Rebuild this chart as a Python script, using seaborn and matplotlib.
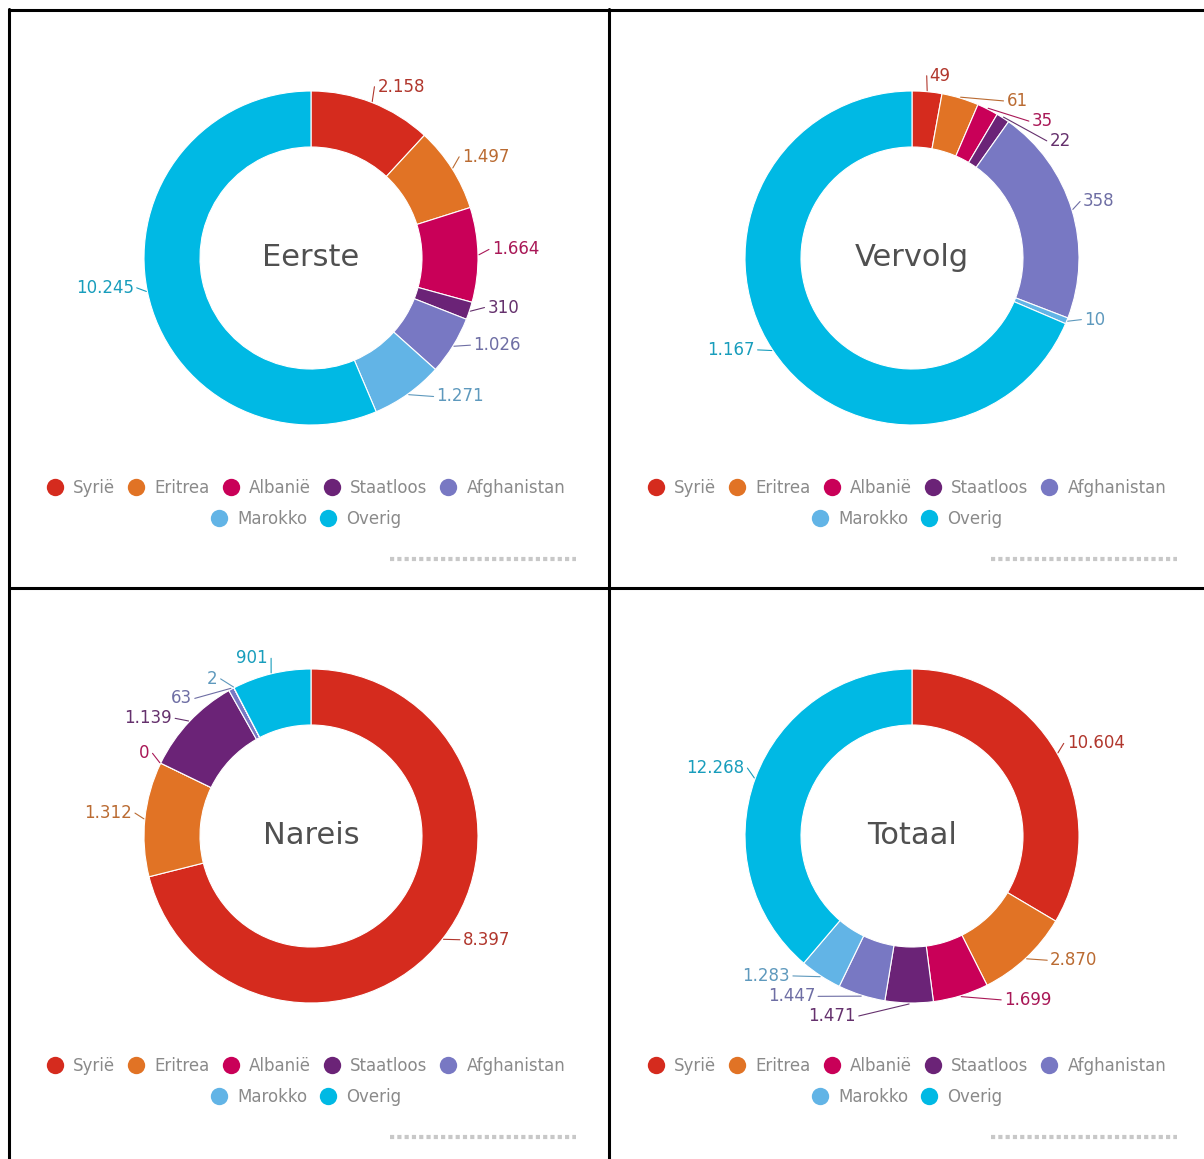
import numpy as np
import matplotlib
matplotlib.use("Agg")
import matplotlib.pyplot as plt
import matplotlib.colors as mcolors
from matplotlib.lines import Line2D
import seaborn as sns

# Data
categories = ["Syrië", "Eritrea", "Albanië", "Staatloos", "Afghanistan", "Marokko", "Overig"]
eerste = [2158, 1497, 1664, 310, 1026, 1271, 10245]
vervolg = [49, 61, 35, 22, 358, 10, 1167]
nareis = [8397, 1312, 0, 1139, 63, 2, 901]
totaal = [10604, 2870, 1699, 1471, 1447, 1283, 12268]
panel_titles = ["Eerste", "Vervolg", "Nareis", "Totaal"]

colors = ["#d52b1e", "#e17325", "#c90058", "#6b2377", "#7878c3", "#62b4e6", "#00b9e4"]

# label nudges in pixels (dx, dy with y pointing down)
nudges = [
    [(-2, 1), (-6, -2), (-5, -5), (0, -9), (4, -10), (17, -12), (5, -7)],
    [(0, 2), (40, 20), (35, 28), (36, 38), (-7, -3), (0, -8), (-2, -10)],
    [(5, -10), (6, -4), (6, -2), (-3, 9), (-30, 25), (-7, 7), (2, 2)],
    [(-7, -1), (11, -11), (37, -13), (-52, -5), (-40, -16), (-20, -15), (7, -4)],
]

W, H = 1204, 1159
sns.set_style("white")
plt.rcParams['font.family'] = ['DejaVu Sans']

fig = plt.figure(figsize=(W / 100, H / 100), dpi=100)
ax = fig.add_axes([0, 0, 1, 1])


def fy(y):
    return H - y


def dutch(v):
    return f"{v:,}".replace(",", ".")


def label_color(c):
    rgb = np.array(mcolors.to_rgb(c))
    grey = np.array(mcolors.to_rgb("#555555"))
    return tuple(0.72 * rgb + 0.28 * grey)


R = 167
ring = 56
centers = [(311, 258), (912, 258), (311, 836), (912, 836)]
datasets = [eerste, vervolg, nareis, totaal]

for k, (vals, (cx, cy)) in enumerate(zip(datasets, centers)):
    wedges, _ = ax.pie(vals, center=(cx, fy(cy)), radius=R, startangle=90,
                       counterclock=False, colors=colors,
                       wedgeprops=dict(width=ring, edgecolor="white", linewidth=0.8))
    ax.text(cx, fy(cy), panel_titles[k], ha="center", va="center",
            fontsize=22, color="#505050")
    for i, w in enumerate(wedges):
        mid = np.deg2rad((w.theta1 + w.theta2) / 2)
        dx, dy = np.cos(mid), np.sin(mid)
        px, py = cx + (R + 18) * dx, fy(cy) + (R + 18) * dy
        nx, ny = nudges[k][i]
        tx, ty = px + nx, py - ny
        ha = "left" if dx >= 0 else "right"
        lc = label_color(colors[i])
        ex, ey = cx + (R + 1) * dx, fy(cy) + (R + 1) * dy
        gap = -2 if ha == "left" else 2
        ax.plot([ex, tx + gap], [ey, ty], color=lc, lw=0.8)
        ax.text(tx + (1 if ha == "left" else -1), ty, dutch(vals[i]), ha=ha, va="center",
                fontsize=12, color=lc)

    # legends: two centred rows
    handles = [Line2D([], [], marker="o", linestyle="", markersize=12.5,
                      markerfacecolor=c, markeredgecolor="none") for c in colors]
    ox = cx - 311
    rows = [(handles[:5], categories[:5], 306 + ox, cy + 230),
            (handles[5:], categories[5:], 306 + ox, cy + 261)]
    for hs, labs, lx, ly in rows:
        fig.legend(hs, labs, loc="center", bbox_to_anchor=(lx / W, 1 - ly / H),
                   ncol=len(hs), frameon=False, fontsize=12, labelcolor="#8a8a8a",
                   handlelength=1.0, handletextpad=0.6, columnspacing=0.75,
                   borderpad=0, borderaxespad=0)

    # dotted strip bottom right of each panel
    ax.plot([390 + ox, 576 + ox], [fy(cy + 301), fy(cy + 301)], color="#c8c8c8",
            lw=3, linestyle=(0, (1, 0.75)), solid_capstyle="butt")

# panel borders
bc = "black"
ax.plot([9, 9], [fy(9), 0], color=bc, lw=2.2)
ax.plot([9, W], [fy(9.5), fy(9.5)], color=bc, lw=2.2)
ax.plot([608.5, 608.5], [fy(9), 0], color=bc, lw=2.2)
ax.plot([9, W], [fy(587.5), fy(587.5)], color=bc, lw=2.2)

# pie() resets the limits, so set them last
ax.set_xlim(0, W)
ax.set_ylim(0, H)
ax.set_aspect("auto")
ax.axis("off")

fig.savefig("out.png", dpi=100)
